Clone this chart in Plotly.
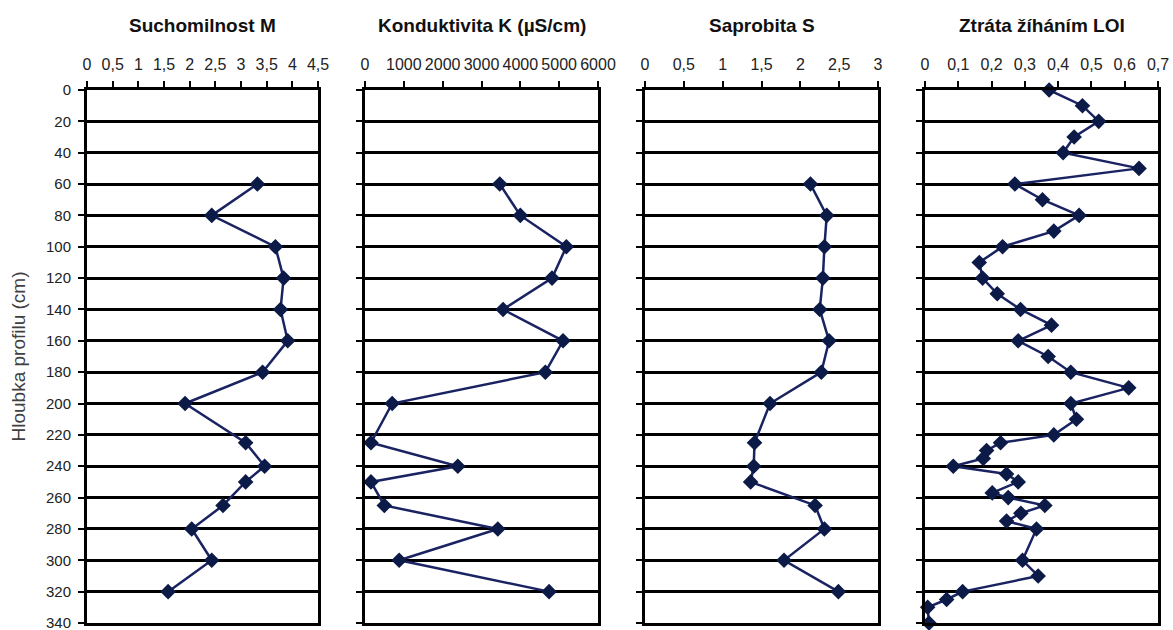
import plotly.graph_objects as go

# Depth of samples (cm) shared by the M, K and S profiles
depth = [60, 80, 100, 120, 140, 160, 180, 200, 225, 240, 250, 265, 280, 300, 320]
suchomilnost_M = [3.32, 2.43, 3.67, 3.83, 3.77, 3.91, 3.42, 1.91, 3.09, 3.46, 3.09, 2.65, 2.04, 2.43, 1.58]
konduktivita_K = [3470, 4000, 5185, 4816, 3556, 5100, 4644, 700, 154, 2390, 154, 497, 3420, 880, 4740]
saprobita_S = [2.13, 2.34, 2.31, 2.29, 2.25, 2.37, 2.27, 1.61, 1.41, 1.40, 1.36, 2.19, 2.31, 1.79, 2.49]

# Loss on ignition, sampled more densely
depth_loi = [0, 10, 20, 30, 40, 50, 60, 70, 80, 90, 100, 110, 120, 130, 140, 150, 160, 170,
             180, 190, 200, 210, 220, 225, 230, 235, 240, 245, 250, 257, 260, 265, 270, 275,
             280, 300, 310, 320, 325, 330, 340]
ztrata_LOI = [0.373, 0.473, 0.522, 0.448, 0.415, 0.643, 0.27, 0.353, 0.463, 0.387, 0.233,
              0.163, 0.173, 0.217, 0.287, 0.38, 0.28, 0.37, 0.438, 0.612, 0.438, 0.455,
              0.387, 0.227, 0.185, 0.175, 0.085, 0.245, 0.28, 0.202, 0.25, 0.36, 0.288,
              0.245, 0.335, 0.293, 0.34, 0.113, 0.065, 0.008, 0.012]

titles = ["Suchomilnost M", "Konduktivita K (µS/cm)", "Saprobita S", "Ztráta žíháním LOI"]
x_ranges = [(0, 4.5), (0, 6000), (0, 3), (0, 0.7)]
x_dticks = [0.5, 1000, 0.5, 0.1]
y_title = "Hloubka profilu (cm)"

W, H = 1173, 630
panel_px = [(87, 318), (365, 598), (645, 878), (925, 1158)]
top_px, bottom_px = 90, 623

FONT = "Arial, Liberation Sans, sans-serif"
LINE_COLOR = "#1a2362"
MARKER_COLOR = "#0b1a46"

series = [
    (suchomilnost_M, depth),
    (konduktivita_K, depth),
    (saprobita_S, depth),
    (ztrata_LOI, depth_loi),
]

fig = go.Figure()
layout = {}
annotations = []
for i, ((xs, ys), title, xr, dt, (x0, x1)) in enumerate(zip(series, titles, x_ranges, x_dticks, panel_px)):
    n = "" if i == 0 else str(i + 1)
    fig.add_trace(go.Scatter(
        x=xs, y=ys, mode="lines+markers",
        xaxis="x" + n, yaxis="y" + n,
        line=dict(color=LINE_COLOR, width=2.5),
        marker=dict(symbol="diamond", size=12, color=MARKER_COLOR),
        cliponaxis=False, showlegend=False,
    ))
    layout["xaxis" + n] = dict(
        domain=[x0 / W, x1 / W], anchor="y" + n, side="top",
        range=list(xr), dtick=dt, tick0=0, automargin=False,
        showgrid=False, zeroline=False,
        showline=True, mirror=True, linecolor="black", linewidth=3,
        ticks="outside", ticklen=6, tickwidth=2, tickcolor="black",
        ticklabelstandoff=5, ticklabeloverflow="allow",
        tickfont=dict(family=FONT, size=16, color="#222222"),
    )
    layout["yaxis" + n] = dict(
        domain=[1 - bottom_px / H, 1 - top_px / H], anchor="x" + n,
        range=[340, 0], dtick=20, tick0=0, automargin=False,
        showgrid=True, gridcolor="black", gridwidth=2.5, zeroline=False,
        showline=True, mirror=True, linecolor="black", linewidth=3,
        ticks="outside", ticklen=6, tickwidth=2, tickcolor="black",
        showticklabels=(i == 0), ticklabelstandoff=4, ticklabeloverflow="allow",
        tickfont=dict(family=FONT, size=15, color="#222222"),
    )
    annotations.append(dict(
        text="<b>" + title + "</b>", x=(x0 + x1) / 2 / W, y=1 - 26 / H,
        xref="paper", yref="paper", xanchor="center", yanchor="middle",
        showarrow=False, font=dict(family=FONT, size=19, color="#111111"),
    ))

annotations.append(dict(
    text=y_title, x=18 / W, y=1 - (top_px + bottom_px) / 2 / H,
    xref="paper", yref="paper", xanchor="center", yanchor="middle",
    textangle=-90, showarrow=False, font=dict(family=FONT, size=19, color="#404040"),
))

fig.update_layout(
    width=W, height=H,
    margin=dict(l=0, r=0, t=0, b=0),
    paper_bgcolor="white", plot_bgcolor="white",
    separators=", ",
    annotations=annotations,
    **layout,
)

fig.write_html("out.html")
